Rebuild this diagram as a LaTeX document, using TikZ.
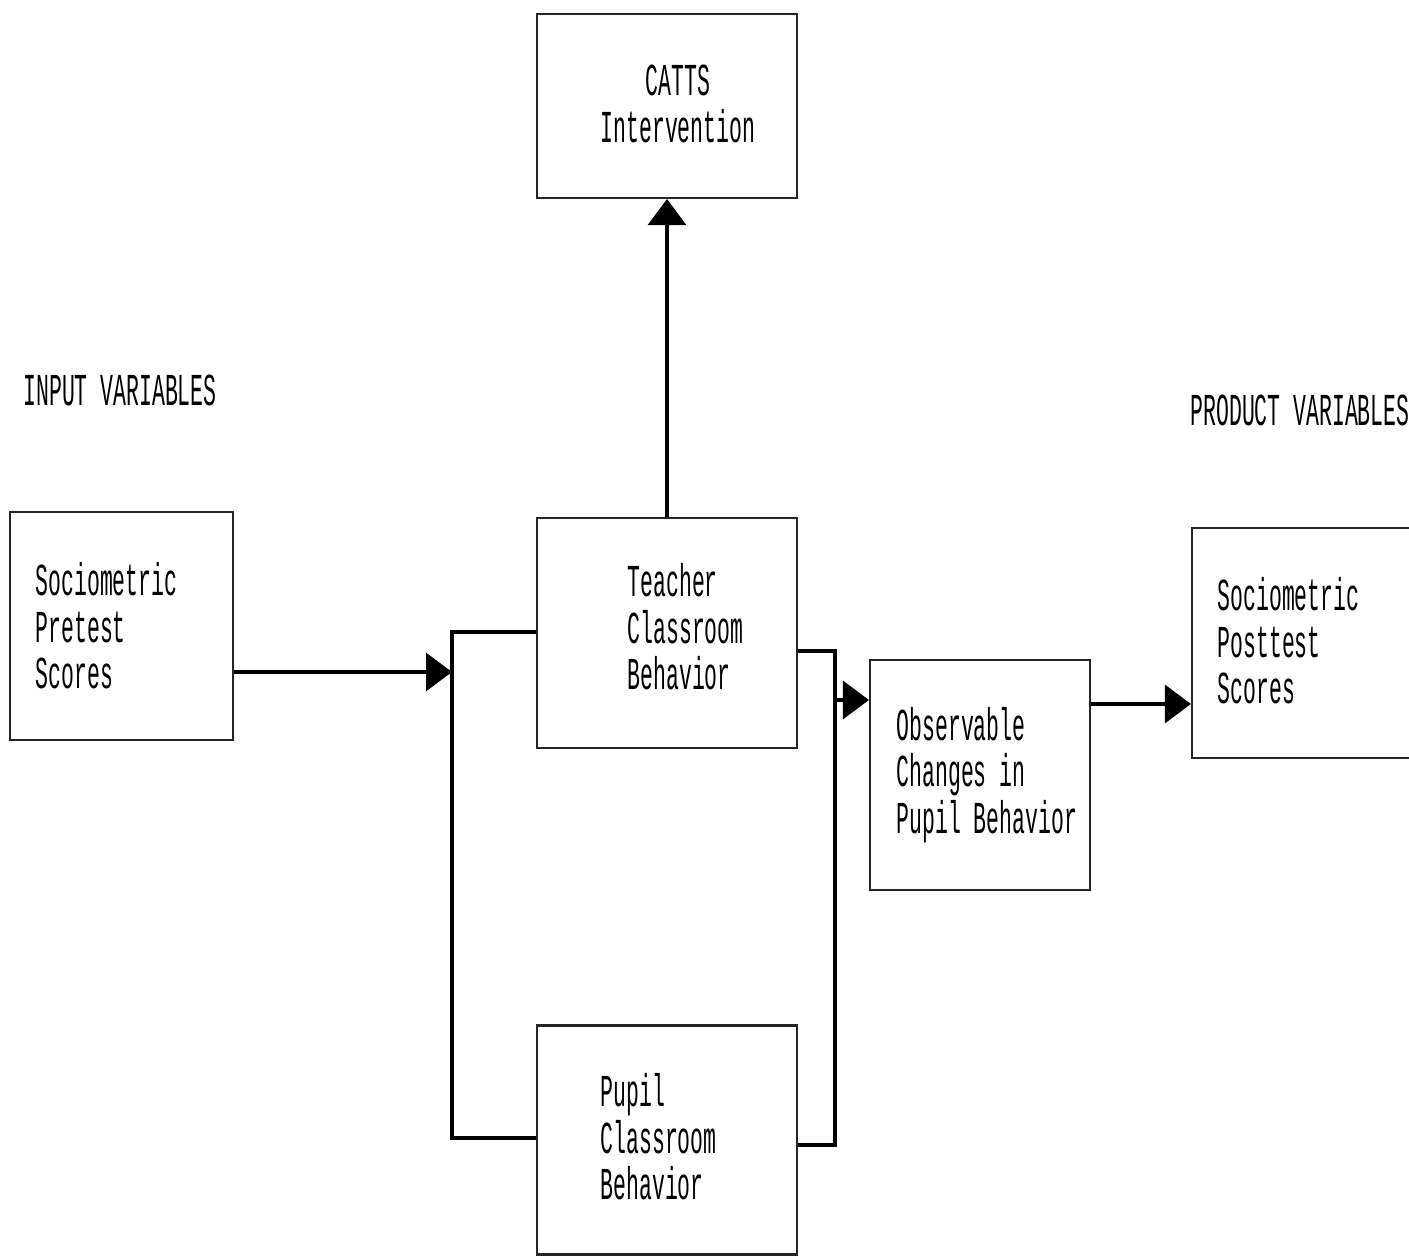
\documentclass[tikz,border=0pt]{standalone}
\usepackage{fontspec}
\newfontfamily\scanfont[FakeStretch=0.47]{Liberation Mono}
\usetikzlibrary{arrows.meta,positioning}

\begin{document}
\begin{tikzpicture}[
  >={Triangle[length=2.6mm,width=3.8mm]},
  box/.style={rectangle, draw=black!85, line width=0.6pt, inner sep=0pt},
  txt/.style={inner sep=0pt, align=left, font=\scanfont\fontsize{13}{13.2}\selectfont},
  flow/.style={->, line width=0.9pt},
  link/.style={line width=0.9pt},
  head/.style={font=\scanfont\fontsize{13}{13}\selectfont}]
\useasboundingbox (0,0) rectangle (14.09,-12.57);
% headings
\node[head] (inlab) at (1.20,-3.90) {INPUT VARIABLES};
\node[head] (outlab) at (13.00,-4.10) {PRODUCT VARIABLES};
% boxes
\node[box, minimum width=2.60cm, minimum height=1.84cm] (catts) at (6.67,-1.06) {};
\node[box, minimum width=2.23cm, minimum height=2.28cm] (pre) at (1.215,-6.26) {};
\node[box, minimum width=2.60cm, minimum height=2.30cm] (teach) at (6.67,-6.33) {};
\node[box, minimum width=2.60cm, minimum height=2.29cm] (pupil) at (6.67,-11.40) {};
\node[box, minimum width=2.20cm, minimum height=2.30cm] (obs) at (9.80,-7.75) {};
\node[box, minimum width=2.28cm, minimum height=2.30cm] (post) at (13.06,-6.43) {};
% box texts
\node[txt, align=center, xshift=0.11cm, yshift=0.02cm] (cattstext) at (catts) {CATTS\\Intervention};
\node[txt, right=0.26cm of pre.west] (pretext) {Sociometric\\Pretest\\Scores};
\node[txt, right=0.91cm of teach.west, yshift=0.06cm] (teachtext) {Teacher\\Classroom\\Behavior};
\node[txt, right=0.64cm of pupil.west, yshift=0.03cm] (pupiltext) {Pupil\\Classroom\\Behavior};
\node[txt, right=0.27cm of obs.west] (obstext) {Observable\\Changes in\\Pupil Behavior};
\node[txt, right=0.26cm of post.west, yshift=0.02cm] (posttext) {Sociometric\\Posttest\\Scores};
% bracket joints
\coordinate (lt) at (4.52,-6.32);
\coordinate (lb) at (4.52,-11.38);
\coordinate (rt) at (8.35,-6.51);
\coordinate (rb) at (8.35,-11.45);
\coordinate (in) at (4.52,-6.72);
\coordinate (out) at (8.35,-7.00);
\coordinate (op) at (11.92,-7.04);
% connectors
\draw[flow] (teach.north) -- (catts.south);
\draw[flow] (pre.east |- in) -- (in);
\draw[link] (teach.west |- lt) -- (lt) -- (lb) -- (pupil.west |- lb);
\draw[link] (teach.east |- rt) -- (rt) -- (rb) -- (pupil.east |- rb);
\draw[flow] (out) -- (obs.west |- out);
\draw[flow] (obs.east |- op) -- (post.west |- op);
\end{tikzpicture}
\end{document}
